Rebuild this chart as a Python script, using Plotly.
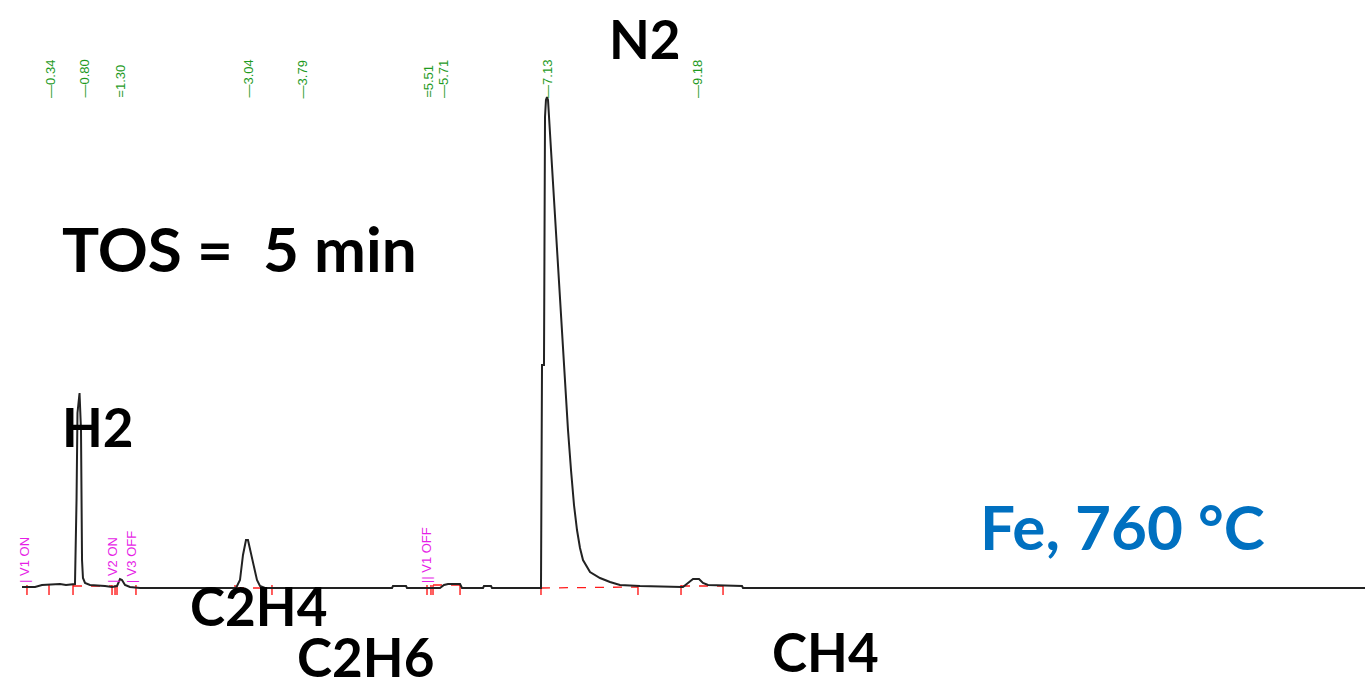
import plotly.graph_objects as go

# Chromatogram trace: retention time (min) and detector signal (a.u.)
time_min = [-0.041, 0.137, 0.232, 0.478, 0.560, 0.683, 0.704, 0.717, 0.745, 0.765, 0.779, 0.792,
            0.820, 0.888, 1.093, 1.189, 1.257, 1.298, 1.325, 1.366, 1.434, 1.571,
            2.883, 2.937, 2.978, 3.019, 3.046, 3.087, 3.128, 3.169, 3.210, 3.279,
            5.014, 5.027, 5.205, 5.219, 5.669, 5.724, 5.779, 5.943, 5.970, 6.257, 6.270, 6.366, 6.380,
            7.049, 7.063, 7.090, 7.104, 7.117, 7.131, 7.145, 7.186, 7.227, 7.281, 7.322,
            7.363, 7.418, 7.459, 7.500, 7.541, 7.582, 7.623, 7.719, 7.855, 7.992, 8.128, 8.402, 8.975,
            8.989, 9.057, 9.126, 9.208, 9.262, 9.331, 9.795, 9.809, 18.4]
signal = [1, 1, 3, 4, 3, 4, 88, 175, 195, 158, 28, 10,
          5, 3, 2, 1, 2, 9, 8, 3, 1, 0,
          0, 8, 33, 48, 48, 35, 20, 8, 2, 0,
          0, 2, 2, 0, 0, 3, 4, 4, 0, 0, 2, 2, 0,
          0, 223, 223, 471, 488, 491, 488, 438, 388, 318, 268,
          218, 158, 118, 83, 58, 40, 28, 16, 10, 6, 3, 2, 1,
          1, 5, 9, 9, 5, 3, 2, 0, 0]

# Retention time labels printed above the peaks
rt_times = [0.34, 0.80, 1.30, 3.04, 3.79, 5.51, 5.71, 7.13, 9.18]
rt_labels = ["—0.34", "—0.80", "=1.30", "—3.04", "—3.79", "=5.51", "—5.71", "—7.13", "—9.18"]

# Integration start/stop marks
int_marks = [0.027, 0.328, 0.656, 1.189, 1.230, 1.257, 1.516, 2.869, 3.374,
             5.492, 5.546, 5.574, 5.943, 7.049, 8.374, 8.962, 9.536]
# Integration baselines (start, end, level start, level end)
base_start = [0.656, 2.869, 5.574, 7.049, 8.962]
base_end = [1.189, 3.374, 5.943, 8.374, 9.536]
base_lvl0 = [2, 0, 3, 0, 2]
base_lvl1 = [2, 0, 3, 1, 2]

# Valve events
event_times = [-0.014, 1.19, 1.46, 5.48]
event_labels = ["| V1 ON", "| V2 ON", "| V3 OFF", "|| V1 OFF"]

W, H = 1365, 689
X_RANGE = [-0.3415, 18.306]
Y_RANGE = [-101, 588]

fig = go.Figure()

# integration baselines
bx, by = [], []
for s, e, a, b in zip(base_start, base_end, base_lvl0, base_lvl1):
    bx += [s, e, None]
    by += [a, b, None]
fig.add_trace(go.Scatter(x=bx, y=by, mode="lines",
                         line=dict(color="#ff1a1a", width=1.3, dash="dash"),
                         hoverinfo="skip"))

# integration marks
mx, my = [], []
for t in int_marks:
    mx += [t, t, None]
    my += [3, -7, None]
fig.add_trace(go.Scatter(x=mx, y=my, mode="lines",
                         line=dict(color="#ff1a1a", width=1.4), hoverinfo="skip"))

# chromatogram
fig.add_trace(go.Scatter(x=time_min, y=signal, mode="lines",
                         line=dict(color="#222222", width=2), hoverinfo="skip"))

annotations = []
for t, lab in zip(rt_times, rt_labels):
    annotations.append(dict(x=t, y=488, xref="x", yref="y", text=lab, textangle=-90,
                            showarrow=False, xanchor="center", yanchor="bottom",
                            font=dict(family="Liberation Sans, Arial", size=13, color="#1e9a1e")))
for t, lab in zip(event_times, event_labels):
    annotations.append(dict(x=t, y=3, xref="x", yref="y", text=lab, textangle=-90,
                            showarrow=False, xanchor="center", yanchor="bottom",
                            font=dict(family="Liberation Sans, Arial", size=13, color="#e61ee6")))

label_font = dict(family="Lato, Open Sans, sans-serif", size=53, color="#000000")
title_font = dict(family="Lato, Open Sans, sans-serif", size=62, color="#000000")


def px_note(text, cx, cy, font, xanchor="center"):
    annotations.append(dict(x=cx / W, y=1 - cy / H, xref="paper", yref="paper",
                            text=text, showarrow=False, xanchor=xanchor, yanchor="middle",
                            font=font))


px_note("<b>N2</b>", 645, 38, label_font)
px_note("<b>TOS =  5 min</b>", 60, 248, title_font, xanchor="left")
px_note("<b>H2</b>", 60, 426, label_font, xanchor="left")
px_note("<b>C2H4</b>", 258, 605, label_font)
px_note("<b>C2H6</b>", 365, 656, label_font)
px_note("<b>CH4</b>", 825, 651, label_font)
px_note("<b>Fe, 760 °C</b>", 1122, 526, dict(family="Lato, Open Sans, sans-serif", size=62, color="#0070c0"))

fig.update_layout(
    width=W, height=H,
    margin=dict(l=0, r=0, t=0, b=0),
    paper_bgcolor="white", plot_bgcolor="white",
    showlegend=False,
    xaxis=dict(range=X_RANGE, visible=False, fixedrange=True),
    yaxis=dict(range=Y_RANGE, visible=False, fixedrange=True),
    annotations=annotations,
)

fig.write_html("out.html")
